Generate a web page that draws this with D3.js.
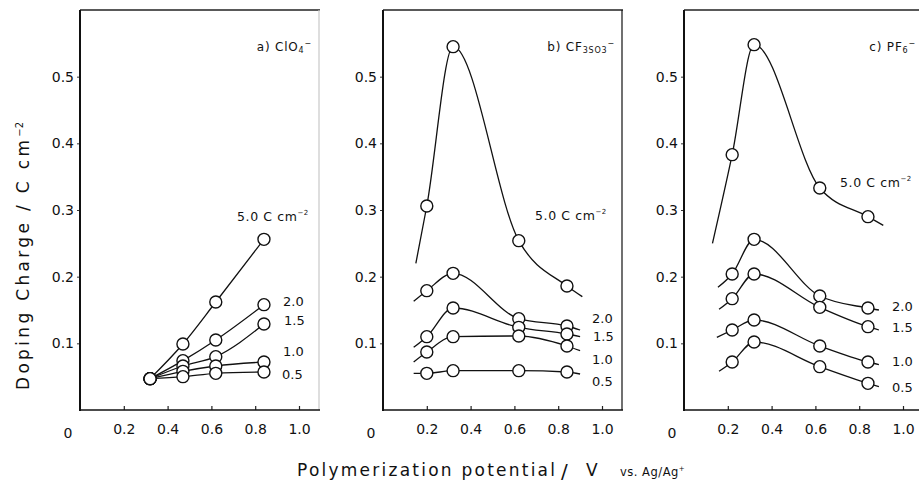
<!DOCTYPE html>
<html>
<head>
<meta charset="utf-8">
<script src="https://cdn.jsdelivr.net/npm/d3@7"></script>
<style>
  html, body { margin: 0; padding: 0; background: #fff; }
  svg { display: block; }
  text { font-family: "DejaVu Sans", "Liberation Sans", sans-serif; fill: #111; }
</style>
</head>
<body>
<svg id="chart" width="919" height="492"></svg>
<script>
// Polymerization charge of each series (C cm^-2)
const seriesNames = ["5.0", "2.0", "1.5", "1.0", "0.5"];

// a) ClO4- : measured polymerization potentials (V) and doping charges (C cm^-2)
const potentialsA = [0.32, 0.47, 0.62, 0.84];
const chargeA_50 = [0.047, 0.099, 0.162, 0.256];
const chargeA_20 = [0.047, 0.074, 0.105, 0.158];
const chargeA_15 = [0.047, 0.066, 0.080, 0.129];
const chargeA_10 = [0.047, 0.058, 0.066, 0.072];
const chargeA_05 = [0.047, 0.050, 0.055, 0.057];

// b) CF3SO3-
const potentialsB = [0.20, 0.32, 0.62, 0.84];
const chargeB_50 = [0.306, 0.545, 0.254, 0.186];
const chargeB_20 = [0.179, 0.205, 0.137, 0.126];
const chargeB_15 = [0.110, 0.153, 0.124, 0.114];
const chargeB_10 = [0.087, 0.110, 0.111, 0.096];
const chargeB_05 = [0.055, 0.059, 0.059, 0.057];
// unmarked ends of the fitted curves: [x start, y start, x end, y end]
const tailsB_50 = [0.15, 0.220, 0.91, 0.170];
const tailsB_20 = [0.14, 0.163, 0.90, 0.120];
const tailsB_15 = [0.14, 0.094, 0.90, 0.110];
const tailsB_10 = [0.14, 0.072, 0.90, 0.089];
const tailsB_05 = [0.14, 0.055, 0.90, 0.054];

// c) PF6-
const potentialsC = [0.22, 0.32, 0.62, 0.84];
const chargeC_50 = [0.383, 0.548, 0.333, 0.290];
const chargeC_20 = [0.204, 0.256, 0.171, 0.153];
const chargeC_15 = [0.167, 0.204, 0.154, 0.125];
const chargeC_10 = [0.120, 0.135, 0.096, 0.072];
const chargeC_05 = [0.072, 0.102, 0.065, 0.040];
const tailsC_50 = [0.13, 0.250, 0.91, 0.277];
const tailsC_20 = [0.155, 0.184, 0.89, 0.150];
const tailsC_15 = [0.16, 0.151, 0.89, 0.120];
const tailsC_10 = [0.15, 0.109, 0.89, 0.068];
const tailsC_05 = [0.16, 0.058, 0.89, 0.035];

const xTicks = [0.2, 0.4, 0.6, 0.8, 1.0];
const yTicks = [0.1, 0.2, 0.3, 0.4, 0.5];

const svg = d3.select("#chart");
const plotTop = 10, plotBottom = 410, panelW = 240;

const y = d3.scaleLinear().domain([0, 0.6]).range([plotBottom, plotTop]);

const panels = [
  { left: 80,  label: ["a) ClO", "4", "−"], pots: potentialsA,
    series: [chargeA_50, chargeA_20, chargeA_15, chargeA_10, chargeA_05], tails: null,
    rightBorder: "#c8c8c8",
    mainLabel: [157, 221], endLabels: [[203, 306], [204, 325], [203, 356], [202, 379]] },
  { left: 383, label: ["b) CF", "3", "SO", "3", "−"], pots: potentialsB,
    series: [chargeB_50, chargeB_20, chargeB_15, chargeB_10, chargeB_05],
    tails: [tailsB_50, tailsB_20, tailsB_15, tailsB_10, tailsB_05],
    rightBorder: "#111",
    mainLabel: [152, 220], endLabels: [[209, 323], [210, 341], [209, 364], [209, 386]] },
  { left: 684, label: ["c) PF", "6", "−"], pots: potentialsC,
    series: [chargeC_50, chargeC_20, chargeC_15, chargeC_10, chargeC_05],
    tails: [tailsC_50, tailsC_20, tailsC_15, tailsC_10, tailsC_05],
    rightBorder: "#111",
    mainLabel: [156, 187], endLabels: [[208, 311], [208, 332], [208, 366], [208, 392]] }
];

const line = d3.line().curve(d3.curveMonotoneX);

panels.forEach(p => {
  const x = d3.scaleLinear().domain([0, 1]).range([p.left, p.left + 219]);
  const g = svg.append("g");
  const right = p.left + panelW;

  // frame: top and right borders
  g.append("line").attr("x1", p.left).attr("x2", right).attr("y1", plotTop).attr("y2", plotTop)
    .attr("stroke", "#222").attr("stroke-width", 1.3);
  g.append("line").attr("x1", right - 1).attr("x2", right - 1).attr("y1", plotTop).attr("y2", plotBottom)
    .attr("stroke", p.rightBorder).attr("stroke-width", 1.2);

  // y axis
  const yAxis = d3.axisLeft(y).tickValues(yTicks).tickSize(3).tickPadding(3)
    .tickFormat(d3.format(".1f"));
  const ya = g.append("g").attr("transform", `translate(${p.left},0)`).call(yAxis);
  ya.select(".domain").remove();
  ya.selectAll("line").attr("stroke", "#333").attr("stroke-width", 1);
  ya.selectAll("text").attr("font-size", 14)
    .style("font-family", "'DejaVu Sans', sans-serif");
  g.append("line").attr("x1", p.left).attr("x2", p.left).attr("y1", plotTop).attr("y2", plotBottom + 1)
    .attr("stroke", "#111").attr("stroke-width", 2);

  // x axis
  const xAxis = d3.axisBottom(x).tickValues(xTicks).tickSize(-4).tickPadding(14)
    .tickFormat(d3.format(".1f"));
  const xa = g.append("g").attr("transform", `translate(0,${plotBottom})`).call(xAxis);
  xa.select(".domain").remove();
  xa.selectAll("line").attr("stroke", "#222").attr("stroke-width", 1.2);
  xa.selectAll("text").attr("font-size", 14)
    .style("font-family", "'DejaVu Sans', sans-serif");
  g.append("line").attr("x1", p.left).attr("x2", right).attr("y1", plotBottom).attr("y2", plotBottom)
    .attr("stroke", "#111").attr("stroke-width", 1.6);
  g.append("text").attr("x", p.left - 12).attr("y", plotBottom + 28).attr("text-anchor", "middle")
    .attr("font-size", 14).text("0");

  // panel title with sub/superscripts
  const t = g.append("text").attr("x", right - 8).attr("y", 51).attr("text-anchor", "end")
    .attr("font-size", 12).attr("letter-spacing", 0.8);
  p.label.forEach((s, i) => {
    const ts = t.append("tspan").text(s);
    if (i > 0) {
      const isSup = s === "−";
      ts.attr("font-size", 8).attr("baseline-shift", isSup ? "65%" : "-25%");
    }
  });

  // curves
  p.series.forEach((vals, si) => {
    let pts = p.pots.map((v, i) => [x(v), y(vals[i])]);
    if (p.tails) {
      const tl = p.tails[si];
      pts = [[x(tl[0]), y(tl[1])], ...pts, [x(tl[2]), y(tl[3])]];
    }
    g.append("path").attr("d", line(pts)).attr("fill", "none")
      .attr("stroke", "#111").attr("stroke-width", 1.3);
  });

  // markers
  p.series.forEach(vals => {
    g.selectAll(null).data(p.pots).join("circle")
      .attr("cx", v => x(v)).attr("cy", (v, i) => y(vals[i])).attr("r", 6)
      .attr("fill", "#fff").attr("stroke", "#111").attr("stroke-width", 1.4);
  });

  // series labels
  const ml = g.append("text").attr("x", p.left + p.mainLabel[0]).attr("y", p.mainLabel[1])
    .attr("font-size", 12.5).attr("letter-spacing", 0.6);
  ml.append("tspan").text(seriesNames[0] + " C cm");
  ml.append("tspan").text("−2").attr("font-size", 7).attr("baseline-shift", "80%");
  p.endLabels.forEach((pos, i) => {
    g.append("text").attr("x", p.left + pos[0]).attr("y", pos[1]).attr("font-size", 13)
      .text(seriesNames[i + 1]);
  });
});

// y axis title
const yt = svg.append("text").attr("transform", "translate(29,256) rotate(-90)")
  .attr("text-anchor", "middle").attr("font-size", 17);
yt.append("tspan").attr("textLength", 250).attr("lengthAdjust", "spacing")
  .text("Doping Charge / C cm");
yt.append("tspan").text("−2").attr("font-size", 10).attr("baseline-shift", "60%");

// x axis title
svg.append("text").attr("x", 297).attr("y", 476).attr("font-size", 17)
  .attr("textLength", 258).attr("lengthAdjust", "spacing").text("Polymerization potential");
svg.append("text").attr("x", 561).attr("y", 478).attr("font-size", 20).text("/");
svg.append("text").attr("x", 586).attr("y", 476).attr("font-size", 17).text("V");
const vs = svg.append("text").attr("x", 620).attr("y", 476).attr("font-size", 11.5)
  .attr("letter-spacing", 0.5);
vs.append("tspan").text("vs. Ag/Ag");
vs.append("tspan").text("+").attr("font-size", 7).attr("baseline-shift", "70%");
</script>
</body>
</html>
